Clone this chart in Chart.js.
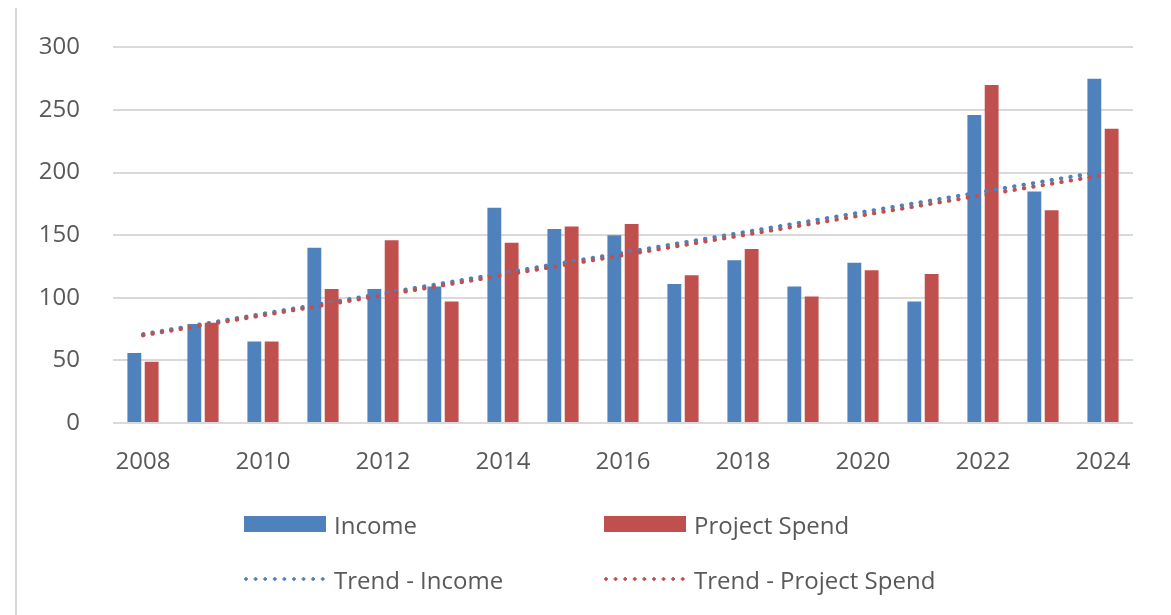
<!DOCTYPE html>
<html>
<head>
<meta charset="utf-8">
<script src="https://cdn.jsdelivr.net/npm/chart.js@4/dist/chart.umd.min.js"></script>
<style>
  html, body { margin: 0; padding: 0; background: #fff; }
  body { width: 1171px; height: 615px; position: relative; overflow: hidden; font-family: "Open Sans", sans-serif; }
  #c { position: absolute; left: 0; top: 0; }
  #frame { position: absolute; left: 15px; top: 8px; width: 2px; height: 607px; background: #d6d6d6; }
  .lg { position: absolute; display: flex; align-items: center; color: #595959; font-size: 24px; white-space: nowrap; }
  .sw { width: 82px; height: 16px; margin-right: 8px; }
  .dot { width: 84px; height: 4px; margin-right: 6px; background-size: 9.6px 4px; background-repeat: repeat-x; }
</style>
</head>
<body>
<div id="frame"></div>
<canvas id="c" width="1171" height="615"></canvas>
<div id="legend"></div>
<script>
const years = ["2008","2009","2010","2011","2012","2013","2014","2015","2016","2017","2018","2019","2020","2021","2022","2023","2024"];
const income = [56, 79, 65, 140, 107, 109, 172, 155, 150, 111, 130, 109, 128, 97, 246, 185, 275];
const projectSpend = [49, 80, 65, 107, 146, 97, 144, 157, 159, 118, 139, 101, 122, 119, 270, 170, 235];
const trendIncome = [71, null, null, null, null, null, null, null, null, null, null, null, null, null, null, null, 201];
const trendSpend = [70, null, null, null, null, null, null, null, null, null, null, null, null, null, null, null, 198];
const yTicks = [0, 50, 100, 150, 200, 250, 300];
const seriesNames = ["Income", "Project Spend", "Trend - Income", "Trend - Project Spend"];

const BLUE = "#4f81bd", RED = "#c0504d", TEXT = "#595959";

Chart.defaults.font.family = '"Open Sans", sans-serif';
Chart.defaults.color = TEXT;

new Chart(document.getElementById("c"), {
  data: {
    labels: years,
    datasets: [
      { type: "line", label: seriesNames[3], data: trendSpend, spanGaps: true, borderColor: RED, borderWidth: 4,
        borderDash: [0.5, 9], borderCapStyle: "round", pointRadius: 0, fill: false, order: 0 },
      { type: "line", label: seriesNames[2], data: trendIncome, spanGaps: true, borderColor: BLUE, borderWidth: 4,
        borderDash: [0.5, 9], borderCapStyle: "round", pointRadius: 0, fill: false, order: 1 },
      { type: "bar", label: seriesNames[0], data: income, backgroundColor: BLUE, borderWidth: 0,
        categoryPercentage: 0.577, barPercentage: 0.8, order: 2 },
      { type: "bar", label: seriesNames[1], data: projectSpend, backgroundColor: RED, borderWidth: 0,
        categoryPercentage: 0.577, barPercentage: 0.8, order: 2 }
    ]
  },
  options: {
    responsive: false,
    animation: false,
    devicePixelRatio: 1,
    layout: { padding: { left: 0, top: 46, right: 38, bottom: 142 } },
    plugins: { legend: { display: false }, tooltip: { enabled: false } },
    scales: {
      x: {
        type: "category",
        offset: true,
        grid: { display: false, drawTicks: false },
        border: { display: false },
        ticks: {
          autoSkip: false, maxRotation: 0, padding: 25,
          font: { size: 24 }, color: TEXT,
          callback: function(v, i) { return i % 2 === 0 ? years[i] : ""; }
        },
        afterFit: function(s) { s.height = 50; }
      },
      y: {
        min: 0, max: 300,
        afterBuildTicks: function(s) { s.ticks = yTicks.map(v => ({ value: v })); },
        grid: { color: "#d9d9d9", lineWidth: 2, drawTicks: false },
        border: { display: false },
        ticks: { padding: 33, font: { size: 24 }, color: TEXT },
        afterFit: function(s) { s.width = 113; }
      }
    }
  }
});

// HTML legend
const legend = document.getElementById("legend");
const items = [
  { name: seriesNames[0], kind: "box", color: BLUE, x: 244, y: 524 },
  { name: seriesNames[1], kind: "box", color: RED, x: 604, y: 524 },
  { name: seriesNames[2], kind: "dot", color: BLUE, x: 244, y: 579 },
  { name: seriesNames[3], kind: "dot", color: RED, x: 604, y: 579 }
];
items.forEach(it => {
  const d = document.createElement("div");
  d.className = "lg";
  d.style.left = it.x + "px";
  d.style.top = (it.y - 18) + "px";
  d.style.height = "36px";
  const sw = document.createElement("span");
  if (it.kind === "box") {
    sw.className = "sw";
    sw.style.background = it.color;
  } else {
    sw.className = "dot";
    sw.style.backgroundImage = "radial-gradient(circle at 2px 2px, " + it.color + " 1.5px, transparent 2px)";
  }
  d.appendChild(sw);
  const t = document.createElement("span");
  t.textContent = it.name;
  d.appendChild(t);
  legend.appendChild(d);
});
</script>
</body>
</html>
